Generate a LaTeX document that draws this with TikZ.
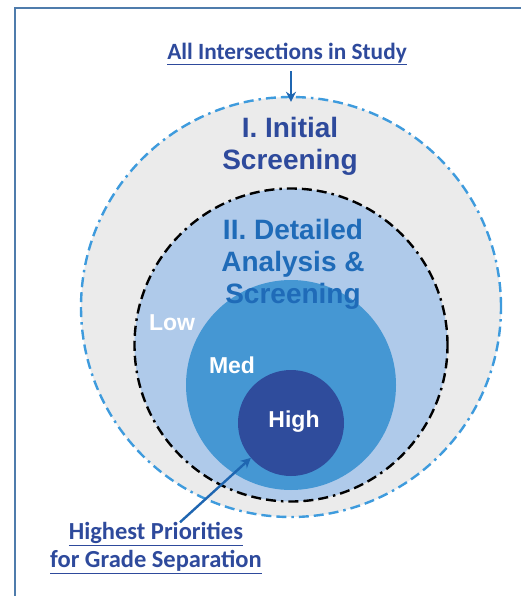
\documentclass[tikz,border=0pt]{standalone}
\usepackage{fontspec}
\setmainfont{Liberation Sans}
\newfontfamily\calibri{Carlito}
\usetikzlibrary{positioning}
\usetikzlibrary{calc}
\usetikzlibrary{arrows.meta}
\definecolor{frameblue}{HTML}{4F7CAC}
\definecolor{ringgray}{HTML}{EBEBEB}
\definecolor{dashblue}{HTML}{3E9BDD}
\definecolor{lowblue}{HTML}{AFCAEA}
\definecolor{medblue}{HTML}{4597D3}
\definecolor{highblue}{HTML}{2F4C9C}
\definecolor{navy}{HTML}{2E4A9C}
\definecolor{midnavy}{HTML}{1F6BB8}
\definecolor{arrowblue}{HTML}{1F66B1}

\begin{document}
\begin{tikzpicture}[x=1pt,y=-1pt,
  ring/.style={circle,inner sep=0pt},
  border/.style={line width=2.4pt,dash pattern=on 10pt off 5pt on 10pt off 5pt on 10pt off 5pt on 2.5pt off 5pt},
  stage/.style={align=center,font=\bfseries\fontsize{28}{32}\selectfont},
  level/.style={white,font=\bfseries\fontsize{23}{26}\selectfont},
  note/.style={navy,align=center,inner sep=0pt,font=\calibri\bfseries\fontsize{24.5}{28}\selectfont},
  pointer/.style={-{Stealth[length=10pt,width=10pt]},arrowblue,line width=2.4pt}]
  \useasboundingbox (0,0) rectangle (520,596);
  \fill[white] (0,0) rectangle (520,596);
  \draw[frameblue,line width=2.5pt] (15,600) -- (15,8) -- (524,8);

  % the nested rings
  \node[ring,fill=ringgray,draw=dashblue,border,minimum size=420pt] (outer) at (291,307) {};
  \node[ring,fill=lowblue,draw=black,border,minimum size=313pt] (low) at (291,345) {};
  \node[ring,fill=medblue,minimum size=210pt] (med) at (291,385) {};
  \node[ring,fill=highblue,minimum size=106pt] (high) at (291,423) {};

  \node[stage,navy] (initial) at (290,146) {I. Initial\\Screening};
  \node[stage,midnavy] (detail) at (293,264) {II. Detailed\\Analysis \&\\Screening};

  \node[level] (lowtxt) at (172,323) {Low};
  \node[level] (medtxt) at (232,365) {Med};
  \node[level] (hightxt) at (294,422) {High};

  \node[note,font=\calibri\bfseries\fontsize{23.3}{28}\selectfont] (all) at (287,54) {\underline{All Intersections in Study}};
  \node[note] (prio) at (156,548) {\underline{Highest Priorities}\\\underline{for Grade Separation}};

  \draw[pointer,shorten <=6pt,shorten >=-6pt] (all.south -| outer.north) -- (outer.north);
  \draw[pointer] ($(prio.north)+(24,0)$) -- (high.221);
\end{tikzpicture}
\end{document}
